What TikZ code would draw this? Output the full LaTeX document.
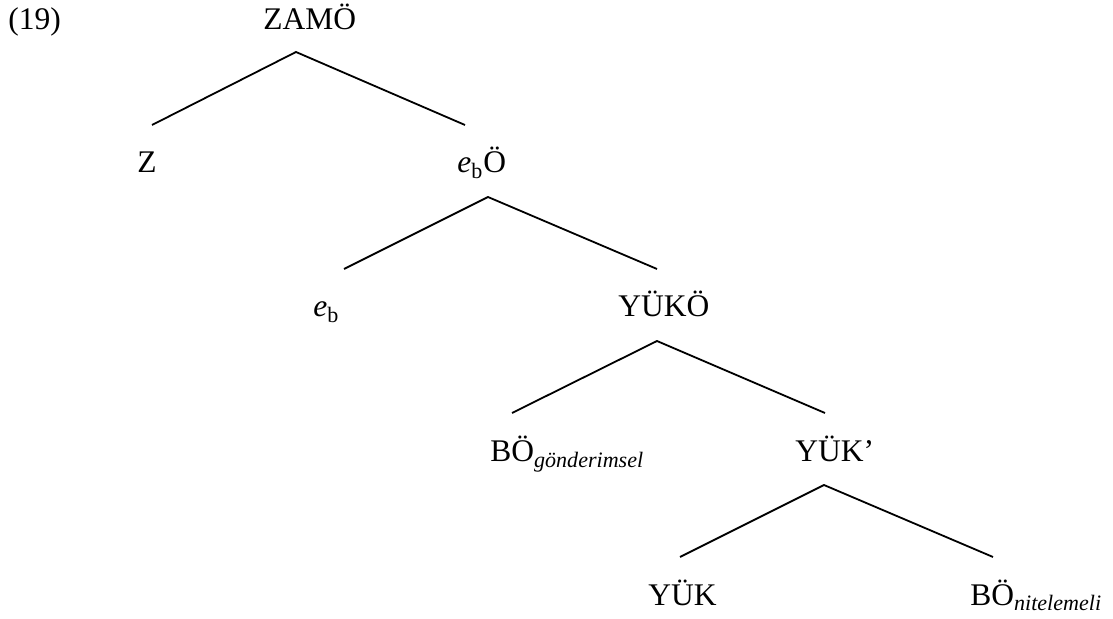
\documentclass[tikz,border=0pt]{standalone}
\usepackage{fontspec}
\setmainfont{Liberation Serif}
\usetikzlibrary{calc}

\begin{document}
\begin{tikzpicture}[x=0.5pt,y=-0.5pt,
		lbl/.style={anchor=base west,inner sep=0pt,font=\fontsize{15.75}{18}\selectfont},
		branch/.style={line width=0.9pt}]
				\useasboundingbox (0,0) rectangle (1113,619);
				\node[lbl] (num) at (8,30) {(19)};
				%labels
				\node[lbl] (zamo) at (263,30) {ZAMÖ};
				\node[lbl] (z) at (137,173) {Z};
				\node[lbl] (ebo) at (457,173) {\textit{e}\textsubscript{b}Ö};
				\node[lbl] (eb) at (313,317) {\textit{e}\textsubscript{b}};
				\node[lbl] (yuko) at (618,317) {YÜKÖ};
				\node[lbl] (bog) at (490,462) {BÖ\textsubscript{\textit{gönderimsel}}};
				\node[lbl] (yukp) at (795,462) {YÜK’};
				\node[lbl] (yuk) at (648,605) {YÜK};
				\node[lbl] (bon) at (970,605) {BÖ\textsubscript{\textit{nitelemeli}}};
				
				%branches
				\coordinate (t1) at (296,52);
				\coordinate (l1) at (152,125);
				\coordinate (r1) at (465,125);
				\coordinate (t2) at (488,197);
				\coordinate (l2) at (344,269);
				\coordinate (r2) at (657,269);
				\coordinate (t3) at (657,341);
				\coordinate (l3) at (512,413);
				\coordinate (r3) at (825,413);
				\coordinate (t4) at (824,485);
				\coordinate (l4) at (680,557);
				\coordinate (r4) at (993,557);
				
				\draw[branch] (l1) -- (t1) -- (r1);
				\draw[branch] (l2) -- (t2) -- (r2);
				\draw[branch] (l3) -- (t3) -- (r3);
				\draw[branch] (l4) -- (t4) -- (r4);
				
			\end{tikzpicture}
\end{document}
